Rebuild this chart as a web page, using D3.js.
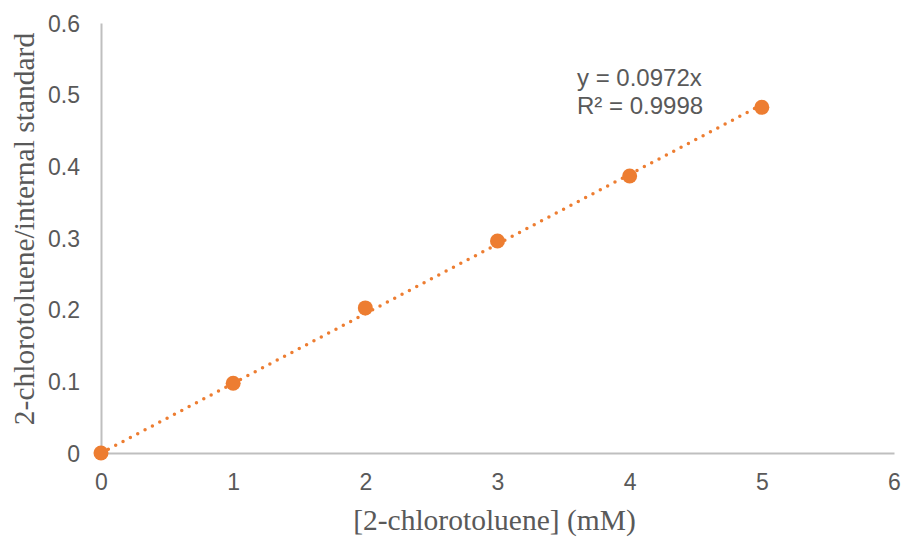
<!DOCTYPE html>
<html><head><meta charset="utf-8">
<script src="https://cdn.jsdelivr.net/npm/d3@7"></script>
<style>body{margin:0;background:#fff}svg{display:block}</style>
</head><body>
<svg id="c" width="908" height="540"></svg>
<script>
const concentrations = [0, 1, 2, 3, 4, 5];
const ratios = [0, 0.0973, 0.2025, 0.2958, 0.3865, 0.4823];
const xTicks = [0, 1, 2, 3, 4, 5, 6];
const yTicks = [0, 0.1, 0.2, 0.3, 0.4, 0.5, 0.6];
const slope = 0.0972;
const equationLines = ["y = 0.0972x", "R² = 0.9998"];
const xTitle = "[2-chlorotoluene] (mM)";
const yTitle = "2-chlorotoluene/internal standard";

const svg = d3.select("#c");
const m = {l: 101, r: 14, t: 23, b: 87};
const W = 908, H = 540;
const x = d3.scaleLinear().domain([0, 6]).range([m.l, W - m.r]);
const y = d3.scaleLinear().domain([0, 0.6]).range([H - m.b, m.t]);
const grey = "#595959", axisC = "#bfbfbf", orange = "#ED7D31";
const sans = "'Liberation Sans', Arial, sans-serif";
const serif = "'Liberation Serif', 'Times New Roman', serif";

// axes
const xa = svg.append("g").attr("transform", `translate(0,${y(0)})`)
  .call(d3.axisBottom(x).tickValues(xTicks).tickSize(0).tickPadding(21).tickFormat(d3.format("d")));
const ya = svg.append("g").attr("transform", `translate(${x(0)},0)`)
  .call(d3.axisLeft(y).tickValues(yTicks).tickSize(0).tickPadding(21).tickFormat(d => d === 0 ? "0" : d3.format(".1f")(d)));
[xa, ya].forEach(g => {
  g.select(".domain").attr("stroke", axisC).attr("stroke-width", 2);
  g.selectAll("text").attr("fill", grey).attr("font-family", sans).attr("font-size", 23);
});
ya.selectAll("text").attr("dy", "0.36em");

// trendline
svg.append("line")
  .attr("x1", x(0)).attr("y1", y(0))
  .attr("x2", x(5)).attr("y2", y(slope * 5))
  .attr("stroke", orange).attr("stroke-width", 3.5)
  .attr("stroke-linecap", "round").attr("stroke-dasharray", "0 8.3");

// points
svg.selectAll("circle.pt").data(concentrations).enter().append("circle")
  .attr("class", "pt")
  .attr("cx", d => x(d)).attr("cy", (d, i) => y(ratios[i]))
  .attr("r", 7.5).attr("fill", orange);

// equation
svg.append("text").attr("x", 577).attr("y", 86)
  .attr("font-family", sans).attr("font-size", 24).attr("fill", grey)
  .selectAll("tspan").data(equationLines).enter().append("tspan")
  .attr("x", 577).attr("dy", (d, i) => i === 0 ? 0 : 28).text(d => d);

// titles
svg.append("text").attr("x", x(3) - 3).attr("y", 530).attr("text-anchor", "middle")
  .attr("font-family", serif).attr("font-size", 29.5).attr("fill", grey).text(xTitle);
svg.append("text").attr("transform", "translate(34,229) rotate(-90)").attr("text-anchor", "middle")
  .attr("font-family", serif).attr("font-size", 29.5).attr("fill", grey).text(yTitle);
</script>
</body></html>
